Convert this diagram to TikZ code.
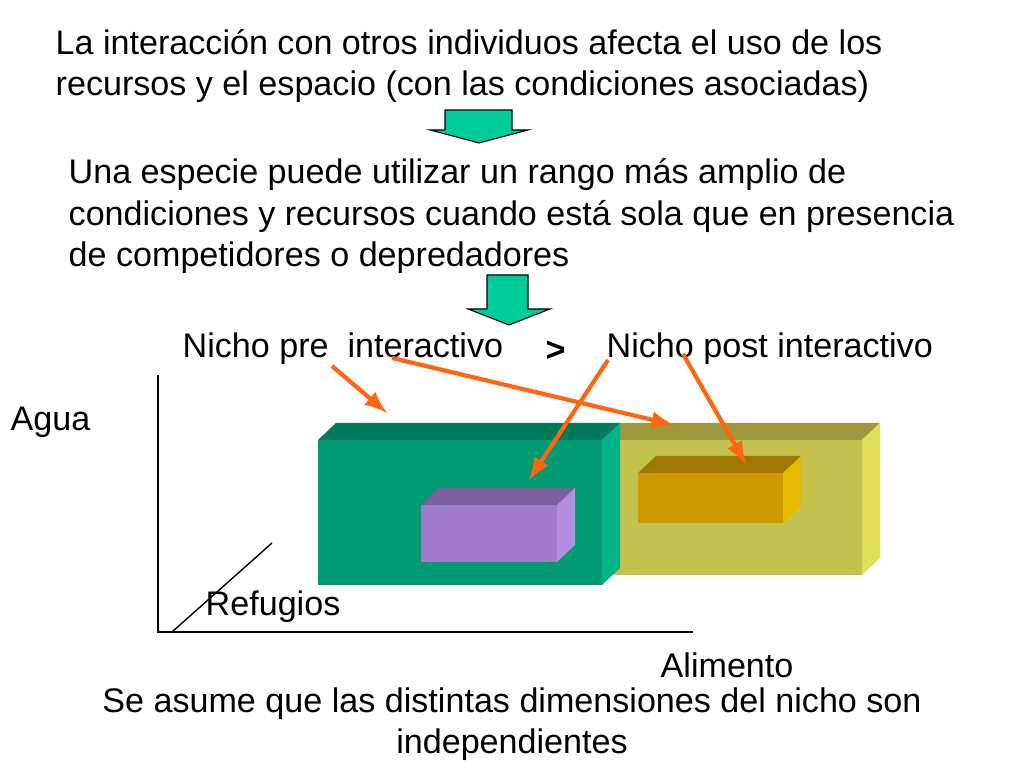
\documentclass[tikz,border=0pt]{standalone}
\usepackage{fontspec}
\setmainfont{Liberation Sans}
\usetikzlibrary{positioning}
\definecolor{flecha}{HTML}{00CC99}
\definecolor{naranja}{HTML}{FF6611}
\tikzset{
  texto/.style={anchor=west,inner sep=0pt,align=left,font=\fontsize{9.7}{11.7}\selectfont},
  bloque/.style={draw=black,fill=flecha,line width=0.3pt},
  interaccion/.style={draw=naranja,line width=1.2pt,-latex},
  eje/.style={draw=black,line width=0.4pt}
}
% caja en 3D: x0,y0 (esquina superior izquierda), ancho, alto, colores
\newcommand{\caja}[7]{%
  \fill[#5] (#1,#2) -- ++(18,-17) -- ++(#3,0) -- ++(-18,17) -- cycle;
  \fill[#6] (#1+#3,#2) -- ++(18,-17) -- ++(0,#4) -- ++(-18,17) -- cycle;
  \fill[#7] (#1,#2) rectangle ++(#3,#4);
}
\begin{document}
\begin{tikzpicture}[x=0.01cm,y=-0.01cm]
\useasboundingbox[fill=white] (0,0) rectangle (1024,768);
% textos superiores
\node[texto] (t1) at (55,66) {La interacción con otros individuos afecta el uso de los\\recursos y el espacio (con las condiciones asociadas)};
\node[texto] (t2) at (68,216) {Una especie puede utilizar un rango más amplio de\\condiciones y recursos cuando está sola que en presencia\\de competidores o depredadores};
% flechas verdes
\draw[bloque] (445,110) -- (512,110) -- (512,130) -- (528,130) -- (479,143) -- (430,130) -- (445,130) -- cycle;
\draw[bloque] (487,275) -- (528,275) -- (528,309) -- (550,309) -- (509,325) -- (468,309) -- (487,309) -- cycle;
% nichos
\node[texto] (pre) at (182,349) {Nicho pre\ \ interactivo};
\node[texto] (mayor) at (545,351) {\bfseries >};
\node[texto] (post) at (606,349) {Nicho post interactivo};
% ejes
\node[texto] (agua) at (10,422) {Agua};
\node[texto] (refugios) at (205,607) {Refugios};
\node[texto] (alimento) at (660,665) {Alimento};
\coordinate (origen) at (158,632);
\draw[eje] (158,375) -- (origen) -- (693,632);
\draw[eje] (172,632) -- (272,543);
% cajas
\caja{600}{440}{262}{135}{fill={rgb,255:red,156;green,154;blue,60}}{fill={rgb,255:red,224;green,224;blue,88}}{fill={rgb,255:red,196;green,194;blue,78}}
\caja{318}{440}{284}{145}{fill={rgb,255:red,0;green,122;blue,90}}{fill={rgb,255:red,0;green,180;blue,136}}{fill={rgb,255:red,0;green,154;blue,114}}
\caja{421}{505}{136}{57}{fill={rgb,255:red,125;green,95;blue,160}}{fill={rgb,255:red,178;green,142;blue,220}}{fill={rgb,255:red,158;green,124;blue,200}}
\caja{638}{473}{145}{50}{fill={rgb,255:red,160;green,120;blue,0}}{fill={rgb,255:red,230;green,184;blue,0}}{fill={rgb,255:red,204;green,153;blue,0}}
% flechas naranjas
\coordinate (p1) at (332,366); \coordinate (q1) at (387,413);
\coordinate (p2) at (392,358); \coordinate (q2) at (674,425);
\coordinate (p3) at (608,360); \coordinate (q3) at (529,480);
\coordinate (p4) at (683,354); \coordinate (q4) at (746,464);
\draw[interaccion] (p1) -- (q1);
\draw[interaccion] (p2) -- (q2);
\draw[interaccion] (p3) -- (q3);
\draw[interaccion] (p4) -- (q4);
% texto inferior
\node[texto,anchor=center,align=center] (nota) at (512,724) {Se asume que las distintas dimensiones del nicho son\\independientes};
\end{tikzpicture}
\end{document}
